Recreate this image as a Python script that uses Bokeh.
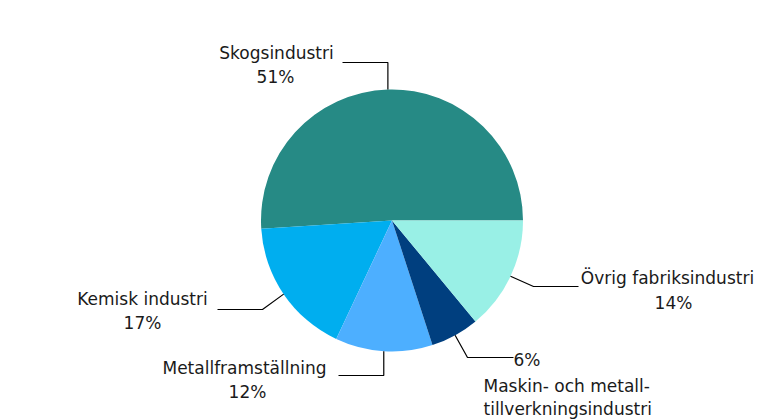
import math
from bokeh.plotting import figure
from bokeh.models import Range1d
from bokeh.core.properties import value
from bokeh.embed import file_html
from bokeh.resources import INLINE

# ---- data ----
categories = ["Skogsindustri", "Kemisk industri", "Metallframställning",
              "Maskin- och metall-\ntillverkningsindustri", "Övrig fabriksindustri"]
shares = [51, 17, 12, 6, 14]
colors = ["#268A85", "#00AEEF", "#4DAFFF", "#003F7F", "#99F0E6"]

# ---- layout (image-pixel coordinates, y measured from top) ----
W, H = 761, 420
cx, cy, R = 391.5, 220, 131
FONT = value("DejaVu Sans")
FS = "17px"

def Y(yimg):
    return H - yimg

p = figure(width=W, height=H, output_backend="svg", toolbar_location=None,
           x_range=Range1d(0, W), y_range=Range1d(0, H),
           min_border=0, tools="")
p.axis.visible = False
p.grid.visible = False
p.outline_line_color = None
p.background_fill_color = "white"
p.border_fill_color = "white"

total = sum(shares)
starts, ends, mids = [], [], []
acc = 0.0
for s in shares:
    a0 = acc / total * 2 * math.pi
    acc += s
    a1 = acc / total * 2 * math.pi
    starts.append(a0)
    ends.append(a1)
    mids.append((a0 + a1) / 2)

p.wedge(x=[cx] * len(shares), y=[Y(cy)] * len(shares), radius=R,
        start_angle=starts, end_angle=ends, direction="anticlock",
        fill_color=colors, line_color=None)

# leader line elbows / ends (layout)
elbows = [(None, 62), (262, 309), (None, 375), (467, 357), (533, 286)]
line_ends = [342, 217, 338, 513, 578]

for i, m in enumerate(mids):
    sx = cx + R * math.cos(m)
    sy = cy - R * math.sin(m)
    ex, ey = elbows[i]
    if ex is None:
        ex = sx
    xs = [sx, ex, line_ends[i]]
    ys = [Y(sy), Y(ey), Y(ey)]
    p.line(xs, ys, line_color="black", line_width=1.2)

# labels
name_pos = [(276, 52, "center"), (142, 298, "center"), (244, 367, "center"),
            (483, 385, "left"), (667, 277, "center")]
pct_pos = [(275, 76, "center"), (142, 322, "center"), (247, 391, "center"),
           (513, 359, "left"), (673, 302, "center")]

for i, cat in enumerate(categories):
    lines = cat.split("\n")
    nx, ny, al = name_pos[i]
    for k, ln in enumerate(lines):
        p.text(x=[nx], y=[Y(ny + 23 * k)], text=[ln], text_align=al,
               text_baseline="middle", text_font=FONT, text_font_size=FS,
               text_color="#1a1a1a")
    px_, py_, al2 = pct_pos[i]
    p.text(x=[px_], y=[Y(py_)], text=[f"{shares[i]}%"], text_align=al2,
           text_baseline="middle", text_font=FONT, text_font_size=FS,
           text_color="#1a1a1a")

open("out.html", "w").write(file_html(p, INLINE))
